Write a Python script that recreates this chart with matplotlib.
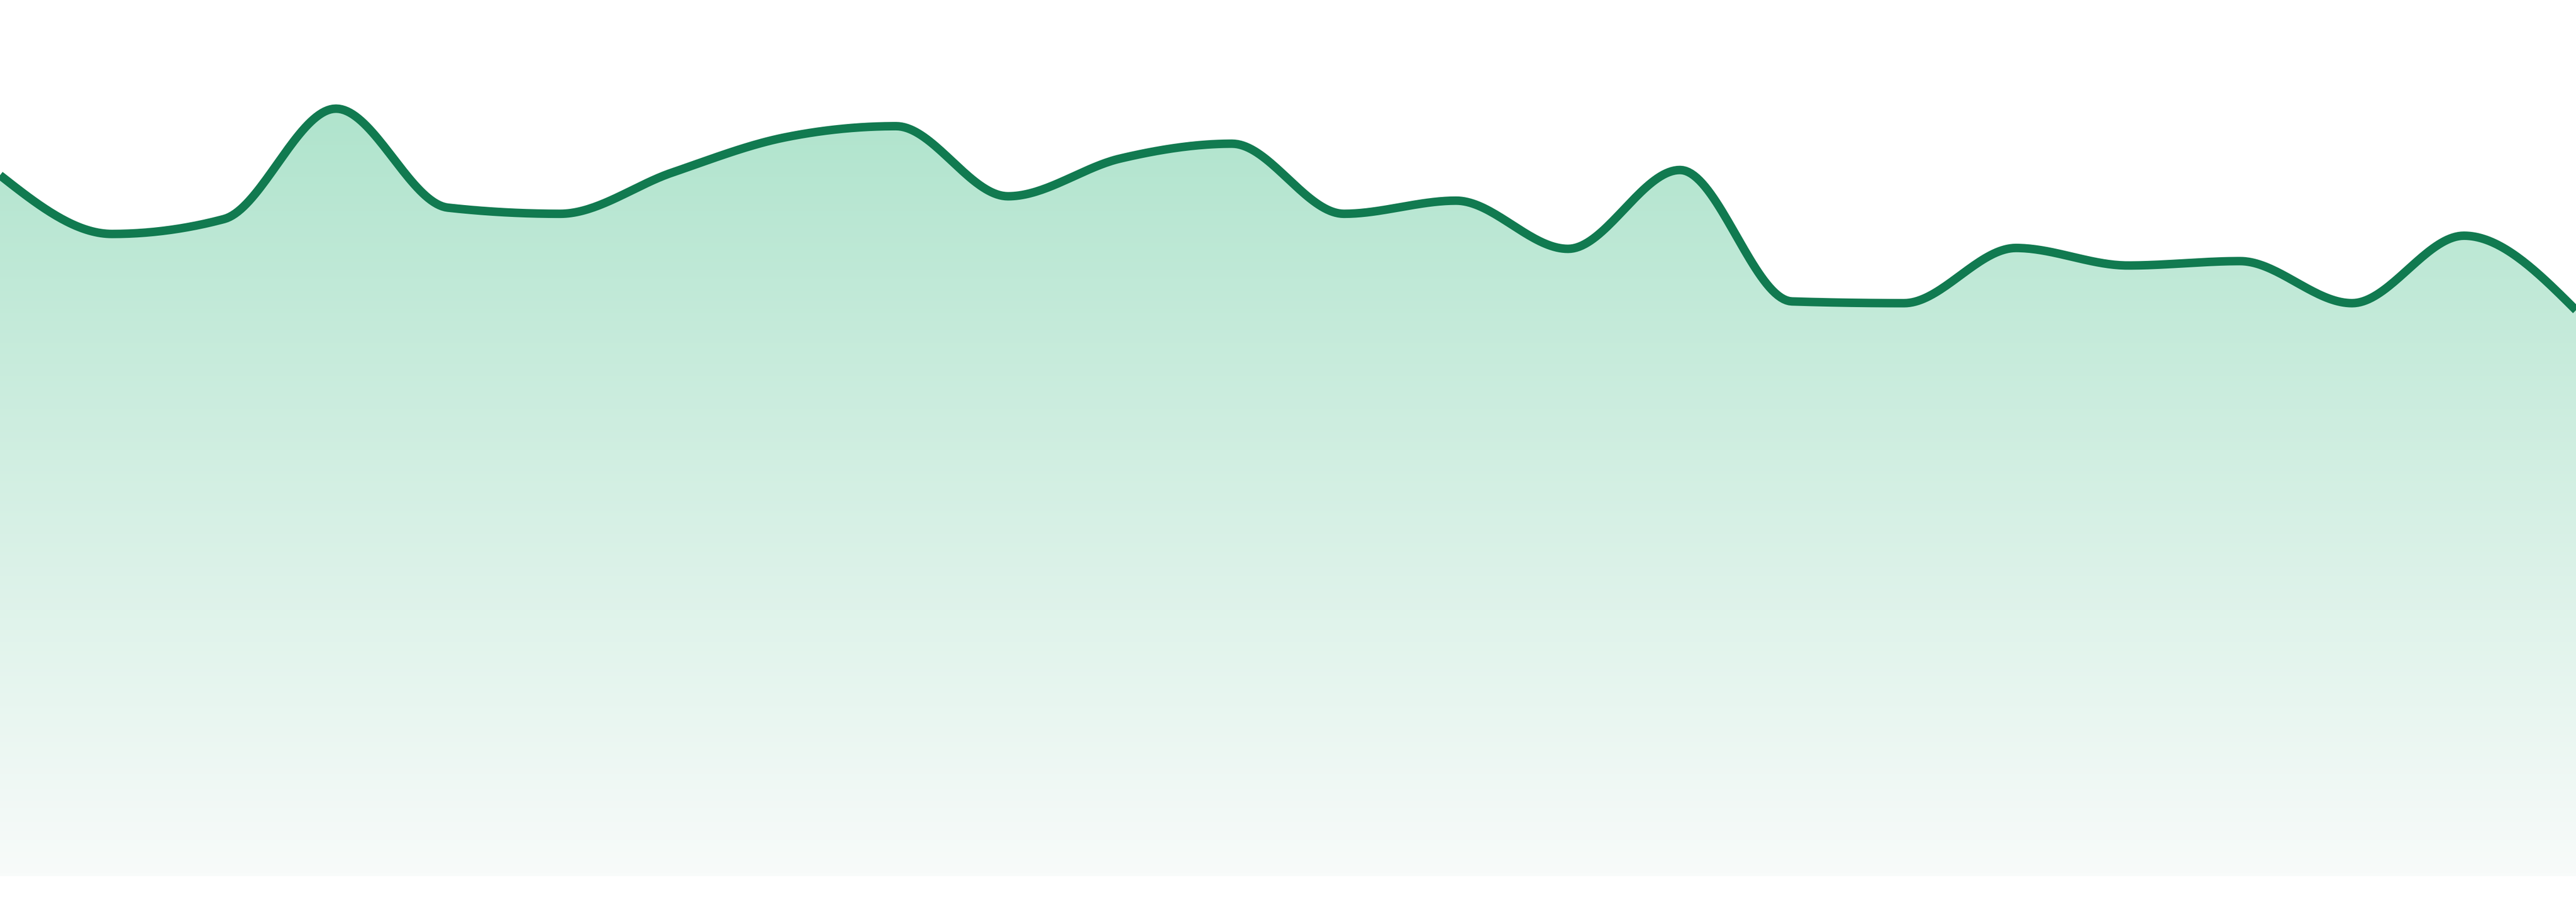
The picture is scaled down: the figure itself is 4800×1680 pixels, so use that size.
import numpy as np
import matplotlib

matplotlib.use("Agg")
import matplotlib.pyplot as plt
from matplotlib.colors import LinearSegmentedColormap

# values (0 = baseline, 100 = top of the chart)
steps = list(range(24))
values = [80.0, 73.3, 75.0, 87.6, 76.3, 75.6, 80.3, 84.3, 85.6, 77.6, 81.9, 83.6,
          75.6, 77.1, 71.6, 80.6, 65.6, 65.4, 71.7, 69.7, 70.2, 65.4, 73.1, 64.6]

LINE = "#117a50"
FILL_TOP = "#b0e4cd"
FILL_BOTTOM = "#f8fbfa"


def monotone_x(x, y, n=40):
    """Monotone cubic interpolation (same idea as d3.curveMonotoneX)."""
    x = np.asarray(x, float)
    y = np.asarray(y, float)
    h = np.diff(x)
    s = np.diff(y) / h
    t = np.zeros_like(y)
    for i in range(1, len(y) - 1):
        s0, s1 = s[i - 1], s[i]
        p = (s0 * h[i] + s1 * h[i - 1]) / (h[i - 1] + h[i])
        t[i] = (np.sign(s0) + np.sign(s1)) * min(abs(s0), abs(s1), 0.5 * abs(p))
    t[0] = (3 * s[0] - t[1]) / 2
    t[-1] = (3 * s[-1] - t[-2]) / 2
    xs, ys = [], []
    u = np.linspace(0, 1, n, endpoint=False)
    for i in range(len(h)):
        x0, x1 = x[i], x[i + 1]
        dx = (x1 - x0) / 3
        p0, p1 = y[i], y[i] + dx * t[i]
        p2, p3 = y[i + 1] - dx * t[i + 1], y[i + 1]
        bx = (1 - u) ** 3 * x0 + 3 * (1 - u) ** 2 * u * (x0 + dx) + 3 * (1 - u) * u ** 2 * (x1 - dx) + u ** 3 * x1
        by = (1 - u) ** 3 * p0 + 3 * (1 - u) ** 2 * u * p1 + 3 * (1 - u) * u ** 2 * p2 + u ** 3 * p3
        xs.extend(bx)
        ys.extend(by)
    xs.append(x[-1])
    ys.append(y[-1])
    return np.array(xs), np.array(ys)


fig = plt.figure(figsize=(16, 5.6), dpi=300)
ax = fig.add_axes([0, 0, 1, 1])
ax.set_xlim(steps[0], steps[-1])
ax.set_ylim(-2.94, 100)
ax.axis("off")

cx, cy = monotone_x(steps, values)

# gradient area under the curve
area = ax.fill_between(cx, cy, 0, color="none", lw=0)
cmap = LinearSegmentedColormap.from_list("g", [FILL_BOTTOM, FILL_TOP])
grad = np.linspace(0, 1, 256).reshape(-1, 1)
img = ax.imshow(grad, cmap=cmap, origin="lower", aspect="auto",
                extent=[steps[0], steps[-1], 0, max(values)], zorder=1)
img.set_clip_path(area.get_paths()[0], transform=ax.transData)

ax.plot(cx, cy, color=LINE, lw=3.8, solid_capstyle="butt", zorder=3)

fig.savefig("out.png", dpi=300, facecolor="white")
